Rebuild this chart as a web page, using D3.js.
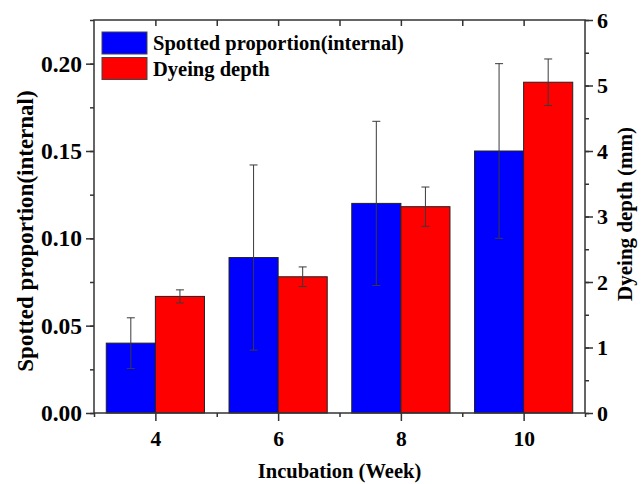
<!DOCTYPE html>
<html>
<head>
<meta charset="utf-8">
<script src="https://cdn.jsdelivr.net/npm/d3@7"></script>
<style>
  body { margin: 0; background: #fff; }
  svg text { font-family: "Liberation Serif", "Times New Roman", serif; font-weight: bold; fill: #000; }
</style>
</head>
<body>
<div id="chart"></div>
<script>
// weeks of incubation
var weeks = [4, 6, 8, 10]
// spotted proportion (internal), left axis
var spotted = [0.04, 0.089, 0.12, 0.15]
var spottedErr = [0.0145, 0.053, 0.047, 0.05]
// dyeing depth (mm), right axis
var depth = [1.78, 2.08, 3.15, 5.05]
var depthErr = [0.1, 0.15, 0.30, 0.355]
var leftTicks = [0, 0.05, 0.10, 0.15, 0.20]
var rightTicks = [0, 1, 2, 3, 4, 5, 6]
var legendNames = ["Spotted proportion(internal)", "Dyeing depth"]
var colors = ["#0000ff", "#ff0000"]

var width = 643, height = 484
var margin = {top: 20, right: 58, bottom: 71, left: 94}
var barW = 0.8
var axisColor = "#333"

var svg = d3.select("#chart").append("svg")
    .attr("width", width)
    .attr("height", height)

var x = d3.scaleLinear().domain([3, 11]).range([margin.left, width - margin.right])
var yL = d3.scaleLinear().domain([0, 0.225]).range([height - margin.bottom, margin.top])
var yR = d3.scaleLinear().domain([0, 6]).range([height - margin.bottom, margin.top])

// bars, blue on the left of each week and red on the right
function drawBars(vals, errs, y, offset, color) {
    var g = svg.append("g")
    g.selectAll("rect")
        .data(vals)
        .enter()
        .append("rect")
        .attr("x", (d, i) => x(weeks[i] + offset))
        .attr("y", d => y(d))
        .attr("width", x(barW) - x(0))
        .attr("height", d => y(0) - y(d))
        .style("fill", color)
        .style("stroke", "#222")
        .style("stroke-width", 1)

    // error bars
    var cx = (i) => x(weeks[i] + offset + barW / 2)
    var e = g.selectAll(".err")
        .data(vals)
        .enter()
        .append("g")
        .style("stroke", "#3a3a3a")
        .style("stroke-width", 1)
    e.append("line")
        .attr("x1", (d, i) => cx(i)).attr("x2", (d, i) => cx(i))
        .attr("y1", (d, i) => y(d + errs[i])).attr("y2", (d, i) => y(d - errs[i]))
    e.append("line")
        .attr("x1", (d, i) => cx(i) - 4).attr("x2", (d, i) => cx(i) + 4)
        .attr("y1", (d, i) => y(d + errs[i])).attr("y2", (d, i) => y(d + errs[i]))
    e.append("line")
        .attr("x1", (d, i) => cx(i) - 4).attr("x2", (d, i) => cx(i) + 4)
        .attr("y1", (d, i) => y(d - errs[i])).attr("y2", (d, i) => y(d - errs[i]))
}
drawBars(spotted, spottedErr, yL, -barW, colors[0])
drawBars(depth, depthErr, yR, 0, colors[1])

// axes
function styleAxis(size) {
    return function(g) {
        g.select(".domain").remove()
        g.selectAll("line").style("stroke", axisColor).style("stroke-width", 1.5)
        g.selectAll("text").style("font-size", size + "px")
    }
}

var minorL = d3.range(0, 0.2251, 0.025)
svg.append("g")
    .attr("transform", "translate(" + margin.left + ",0)")
    .call(d3.axisLeft(yL).tickValues(minorL).tickSize(4).tickFormat(""))
    .call(styleAxis(23))
svg.append("g")
    .attr("transform", "translate(" + margin.left + ",0)")
    .call(d3.axisLeft(yL).tickValues(leftTicks).tickSize(8).tickPadding(4).tickFormat(d3.format(".2f")))
    .call(styleAxis(23.5))

var minorR = d3.range(0, 6.01, 0.5)
svg.append("g")
    .attr("transform", "translate(" + (width - margin.right) + ",0)")
    .call(d3.axisRight(yR).tickValues(minorR).tickSize(4).tickFormat(""))
    .call(styleAxis(22))
svg.append("g")
    .attr("transform", "translate(" + (width - margin.right) + ",0)")
    .call(d3.axisRight(yR).tickValues(rightTicks).tickSize(8).tickPadding(4).tickFormat(d3.format("d")))
    .call(styleAxis(22))

svg.append("g")
    .attr("transform", "translate(0," + (height - margin.bottom) + ")")
    .call(d3.axisBottom(x).tickValues([3, 5, 7, 9, 11]).tickSize(4).tickFormat(""))
    .call(styleAxis(21))
svg.append("g")
    .attr("transform", "translate(0," + (height - margin.bottom) + ")")
    .call(d3.axisBottom(x).tickValues(weeks).tickSize(8).tickPadding(10))
    .call(styleAxis(21.5))

// top axis, ticks pointing in
svg.append("g")
    .attr("transform", "translate(0," + margin.top + ")")
    .call(d3.axisBottom(x).tickValues(d3.range(4, 11, 1)).tickSize(6).tickFormat(""))
    .call(styleAxis(21))

// frame
svg.append("rect")
    .attr("x", margin.left)
    .attr("y", margin.top)
    .attr("width", width - margin.left - margin.right)
    .attr("height", height - margin.top - margin.bottom)
    .style("fill", "none")
    .style("stroke", axisColor)
    .style("stroke-width", 1.5)

// axis titles
svg.append("text")
    .attr("transform", "translate(33,231) rotate(-90)")
    .attr("text-anchor", "middle")
    .style("font-size", "23px")
    .text("Spotted proportion(internal)")
svg.append("text")
    .attr("transform", "translate(632,214) rotate(-90)")
    .attr("text-anchor", "middle")
    .style("font-size", "21px")
    .text("Dyeing depth (mm)")
svg.append("text")
    .attr("x", x(7))
    .attr("y", 478)
    .attr("text-anchor", "middle")
    .style("font-size", "20.5px")
    .text("Incubation (Week)")

// legend
var legend = svg.selectAll(".legend")
    .data(legendNames)
    .enter()
    .append("g")
    .attr("transform", (d, i) => "translate(102," + (32 + i * 25.5) + ")")
legend.append("rect")
    .attr("width", 45)
    .attr("height", 22)
    .style("fill", (d, i) => colors[i])
    .style("stroke", "#444")
    .style("stroke-width", 1)
legend.append("text")
    .attr("x", 51)
    .attr("y", 18)
    .style("font-size", "20.5px")
    .text(d => d)
</script>
</body>
</html>
